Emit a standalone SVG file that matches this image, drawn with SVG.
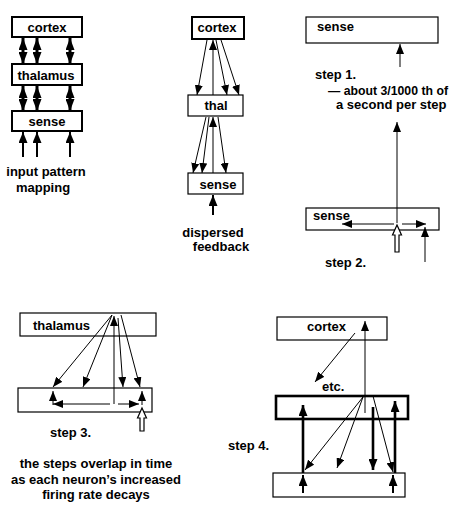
<svg xmlns="http://www.w3.org/2000/svg" width="463" height="516" viewBox="0 0 463 516">
<defs>
<style>
.bx{fill:#fff;stroke:#000;stroke-width:1.2}
.b2{fill:#fff;stroke:#000;stroke-width:2}
.b3{fill:#fff;stroke:#000;stroke-width:2.6}
.t{font-family:"Liberation Sans",Arial,sans-serif;font-weight:bold;font-size:13px;fill:#000}
.m{text-anchor:middle}
.ln{stroke:#000;stroke-width:1;fill:none;marker-end:url(#ah)}
.lk{stroke:#000;stroke-width:2;fill:none;marker-end:url(#ahk)}
.lt{stroke:#000;stroke-width:2.6;fill:none;marker-end:url(#ahk)}
.dd{stroke:#000;stroke-width:3;fill:none;marker-start:url(#ahd);marker-end:url(#ahd)}
.hol{fill:#fff;stroke:#000;stroke-width:1.2}
</style>
<marker id="ah" markerUnits="userSpaceOnUse" markerWidth="10" markerHeight="8" refX="10" refY="4" orient="auto" viewBox="0 0 10 8"><path d="M0,0 L10,4 L0,8 z" fill="#000"/></marker>
<marker id="ahk" markerUnits="userSpaceOnUse" markerWidth="11" markerHeight="9" refX="11" refY="4.5" orient="auto" viewBox="0 0 11 9"><path d="M0,0 L11,4.5 L0,9 z" fill="#000"/></marker>
<marker id="ahd" markerUnits="userSpaceOnUse" markerWidth="12" markerHeight="9" refX="12" refY="4.5" orient="auto-start-reverse" viewBox="0 0 12 9"><path d="M0,0 L12,4.5 L0,9 z" fill="#000"/></marker>
</defs>
<rect width="463" height="516" fill="#fff"/>

<g id="p1-cortex"><rect class="b2" x="12" y="17" width="70" height="20"/><text class="t m" x="47" y="32">cortex</text></g>
<g id="p1-thalamus"><rect class="b2" x="12" y="64" width="70" height="21"/><text class="t m" x="46" y="80">thalamus</text></g>
<g id="p1-sense"><rect class="b2" x="12" y="111" width="70" height="20"/><text class="t m" x="47" y="126">sense</text></g>
<g id="p1-label"><text class="t m" x="46" y="176">input pattern</text><text class="t m" x="43" y="192">mapping</text></g>

<g id="p2-cortex"><rect class="b2" x="192" y="17" width="52" height="22"/><text class="t m" x="217" y="32">cortex</text></g>
<g id="p2-thal"><rect class="bx" x="188" y="95" width="55" height="21"/><text class="t m" x="216" y="110">thal</text></g>
<g id="p2-sense"><rect class="bx" x="188" y="173" width="55" height="21"/><text class="t m" x="218" y="189">sense</text></g>
<g id="p2-label"><text class="t m" x="213" y="237">dispersed</text><text class="t m" x="221" y="251">feedback</text></g>

<g id="s1-sense"><rect class="bx" x="306" y="17" width="132" height="26"/><text class="t" x="317" y="31">sense</text></g>
<g id="s1-label"><text class="t" x="315" y="79">step 1.</text><text class="t" x="328" y="95" textLength="120" lengthAdjust="spacingAndGlyphs">— about 3/1000 th of</text><text class="t" x="336" y="109">a second per step</text></g>
<g id="s2-sense"><rect class="bx" x="306" y="208" width="133" height="22"/><text class="t" x="313" y="220">sense</text></g>
<g id="s2-label"><text class="t" x="325" y="267">step 2.</text></g>

<g id="s3-thalamus"><rect class="bx" x="20" y="313" width="136" height="23"/><text class="t" x="33" y="330">thalamus</text></g>
<g id="s3-sense"><rect class="bx" x="18" y="388" width="134" height="24"/></g>
<g id="s3-label"><text class="t" x="50" y="437">step 3.</text>
<text class="t m" x="96" y="468">the steps overlap in time</text>
<text class="t m" x="96" y="484">as each neuron’s increased</text>
<text class="t m" x="96" y="499">firing rate decays</text></g>

<g id="s4-cortex"><rect class="bx" x="277" y="317" width="110" height="23"/><text class="t" x="307" y="331">cortex</text></g>
<g id="s4-etc"><text class="t" x="322" y="391">etc.</text></g>
<g id="s4-thalamus"><rect class="b3" x="276" y="396" width="132" height="23"/></g>
<g id="s4-sense"><rect class="bx" x="273" y="473" width="132" height="24"/></g>
<g id="s4-label"><text class="t" x="228" y="450">step 4.</text></g>

<g id="connectors">
<line class="dd" x1="23" y1="38" x2="23" y2="64"/>
<line class="dd" x1="37" y1="38" x2="37" y2="64"/>
<line class="dd" x1="70" y1="38" x2="70" y2="64"/>
<line class="dd" x1="23" y1="86" x2="23" y2="111"/>
<line class="dd" x1="37" y1="86" x2="37" y2="111"/>
<line class="dd" x1="70" y1="86" x2="70" y2="111"/>
<line class="lk" x1="23" y1="157" x2="23" y2="132"/>
<line class="lk" x1="37" y1="157" x2="37" y2="132"/>
<line class="lk" x1="70" y1="157" x2="70" y2="132"/>
<line class="ln" x1="207" y1="40" x2="197" y2="95"/>
<line class="ln" x1="213" y1="95" x2="213" y2="40"/>
<line class="ln" x1="216" y1="40" x2="227" y2="95"/>
<line class="ln" x1="221" y1="40" x2="239" y2="95"/>
<line class="ln" x1="206" y1="117" x2="193" y2="173"/>
<line class="ln" x1="209" y1="117" x2="202" y2="173"/>
<line class="ln" x1="213" y1="173" x2="213" y2="117"/>
<line class="ln" x1="218" y1="117" x2="226" y2="173"/>
<line class="lk" x1="213" y1="215" x2="213" y2="195"/>
<line class="ln" x1="400" y1="67" x2="400" y2="44"/>
<line class="ln" x1="397" y1="223" x2="397" y2="122"/>
<line class="ln" x1="394" y1="224" x2="342" y2="224"/>
<line class="ln" x1="402" y1="224" x2="426" y2="224"/>
<line class="ln" x1="425" y1="262" x2="425" y2="227"/>
<path class="hol" d="M397,225 L401.5,235 L399,235 L399,252 L395,252 L395,235 L392.5,235 Z"/>
<line class="ln" x1="112" y1="315" x2="53" y2="387"/>
<line class="ln" x1="112" y1="315" x2="83" y2="387"/>
<line class="ln" x1="118" y1="318" x2="123" y2="387"/>
<line class="ln" x1="121" y1="315" x2="140" y2="387"/>
<line class="ln" x1="114" y1="404" x2="114" y2="316"/>
<line class="ln" x1="110" y1="404" x2="53" y2="404"/>
<line class="ln" x1="118" y1="404" x2="139" y2="404"/>
<line class="ln" x1="53" y1="405" x2="53" y2="391"/>
<line class="ln" x1="142" y1="405" x2="142" y2="391"/>
<path class="hol" d="M142,408 L146.5,418 L144,418 L144,431 L140,431 L140,418 L137.5,418 Z"/>
<line class="ln" x1="365" y1="413" x2="365" y2="321"/>
<line class="ln" x1="355" y1="333" x2="315" y2="382"/>
<line class="lt" x1="303" y1="473" x2="303" y2="405"/>
<line class="lt" x1="395" y1="473" x2="395" y2="401"/>
<line class="ln" x1="363" y1="397" x2="305" y2="470"/>
<line class="ln" x1="363" y1="397" x2="337" y2="468"/>
<line class="lt" x1="373" y1="407" x2="373" y2="470"/>
<line class="ln" x1="373" y1="396" x2="393" y2="472"/>
<line class="lk" x1="303" y1="493" x2="303" y2="475"/>
<line class="lk" x1="393" y1="493" x2="393" y2="475"/>
</g>
</svg>
